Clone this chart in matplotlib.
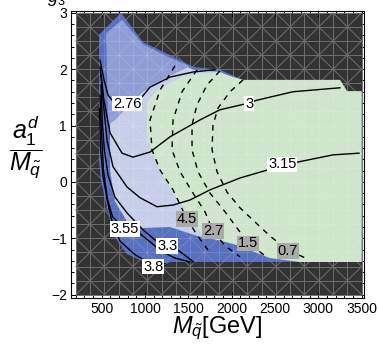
import numpy as np
import matplotlib.pyplot as plt
from matplotlib.patches import Polygon, Rectangle
from matplotlib.collections import LineCollection
from matplotlib.ticker import MultipleLocator

plt.rcParams['font.family'] = ['Liberation Sans', 'DejaVu Sans']
plt.rcParams['mathtext.fontset'] = 'custom'
plt.rcParams['mathtext.rm'] = 'Liberation Sans'
plt.rcParams['mathtext.it'] = 'Liberation Sans:italic'

# scanned domain
m_min, m_max = 200, 3500
a_min, a_max = -2.0, 3.0

# allowed region (outer envelope, dark blue)
outer_m = [723, 977, 1288, 1554, 1865, 2131, 3250, 3331, 3500, 3500, 1288, 1173,
           1023, 792, 660, 580, 530, 490, 469, 469]
outer_a = [3.00, 2.48, 2.25, 2.04, 1.99, 1.81, 1.81, 1.61, 1.61, -1.42, -1.42, -1.51,
           -1.44, -1.28, -1.00, -0.60, -0.25, 0.05, 0.35, 2.61]

# lavender region
lav_m = [573, 734, 977, 1288, 1554, 1865, 2131, 2300, 2300, 2062, 1669, 1288, 919,
         792, 653, 596, 596]
lav_a = [2.62, 2.87, 2.42, 2.18, 1.99, 1.95, 1.78, 1.78, -1.00, -1.08, -0.99, -0.80,
         -0.82, -0.70, -0.35, 0.20, 1.50]

# periwinkle region (top)
peri_m = [550, 734, 977, 1288, 1519, 1230, 977, 827, 653, 573]
peri_a = [2.64, 2.87, 2.44, 2.20, 2.05, 1.84, 1.60, 1.37, 1.10, 1.01]

# green region
green_m = [1023, 1080, 1160, 1300, 1450, 1634, 1865, 2131, 3250, 3331, 3500, 3500,
           2788, 2442, 2062, 1669, 1519, 1404, 1207, 1080, 1023]
green_a = [1.40, 1.53, 1.65, 1.77, 1.87, 1.93, 1.93, 1.81, 1.81, 1.61, 1.61, -1.42,
           -1.42, -1.35, -1.12, -0.96, -0.62, -0.37, 0.09, 0.51, 0.87]

# solid contours: (level, m, a, label position)
solid = [
    ('2.76', [480, 526, 573, 619, 792, 965, 1057, 1288, 1554, 1807],
             [2.16, 1.81, 1.54, 1.45, 1.38, 1.51, 1.68, 1.86, 1.95, 1.99], (792, 1.39)),
    ('3', [480, 526, 596, 734, 861, 1057, 1288, 1634, 1865, 2200, 2292, 2708, 3250],
          [2.04, 1.45, 0.87, 0.51, 0.44, 0.53, 0.80, 1.10, 1.28, 1.40, 1.45, 1.60, 1.67],
          (2200, 1.39)),
    ('3.15', [492, 515, 561, 630, 792, 942, 1138, 1323, 1519, 1750, 2096, 2408, 2580,
              2754, 3169, 3469],
             [1.90, 1.45, 0.74, 0.27, -0.09, -0.28, -0.44, -0.41, -0.32, -0.14, 0.07,
              0.21, 0.30, 0.35, 0.48, 0.51], (2583, 0.31)),
    ('3.3', [492, 505, 530, 573, 653, 792, 977, 1115, 1258, 1380, 1484, 1560],
            [1.72, 1.10, 0.57, 0.12, -0.27, -0.55, -0.85, -1.03, -1.13, -1.21, -1.33,
             -1.42], (1258, -1.13)),
    ('3.55', [480, 495, 520, 565, 625, 769, 942, 1057, 1196, 1346, 1519],
             [1.54, 0.92, 0.21, -0.30, -0.62, -0.84, -0.92, -1.06, -1.24, -1.35, -1.42],
             (769, -0.84)),
    ('3.8', [475, 485, 515, 560, 610, 711, 884, 1093, 1230],
            [1.30, 0.60, 0.10, -0.30, -0.65, -1.05, -1.29, -1.48, -1.45], (1093, -1.50)),
]

# dashed contours
dashed = [
    ('4.5', [1346, 1173, 1057, 1080, 1173, 1323, 1484, 1600, 1727],
            [2.06, 1.63, 1.10, 0.57, 0.21, -0.14, -0.66, -0.94, -1.21], (1484, -0.66)),
    ('2.7', [1600, 1427, 1323, 1311, 1404, 1554, 1692, 1784, 1923, 2096],
            [1.99, 1.60, 1.10, 0.57, 0.18, -0.20, -0.53, -0.87, -1.13, -1.33],
            (1785, -0.87)),
    ('1.5', [1865, 1715, 1600, 1542, 1542, 1611, 1750, 1923, 2188, 2419],
            [1.97, 1.72, 1.37, 1.01, 0.57, 0.18, -0.20, -0.53, -1.08, -1.35],
            (2188, -1.09)),
    ('0.7', [2131, 1981, 1842, 1784, 1773, 1831, 1946, 2096, 2269, 2442, 2650, 2881],
            [1.81, 1.60, 1.31, 1.01, 0.57, 0.18, -0.18, -0.46, -0.71, -0.96, -1.21,
             -1.37], (2650, -1.22)),
]

fig = plt.figure(figsize=(3.78, 3.47), dpi=100)
ax = fig.add_axes([0.188, 0.141, 0.775, 0.827])

# dark excluded background with mesh
ax.add_patch(Rectangle((m_min, a_min), m_max - m_min, a_max - a_min,
                       fc='#333333', ec='none', zorder=1))
gx = np.linspace(m_min, m_max, 21)
gy = np.linspace(a_min, a_max, 21)
segs = []
for x in gx:
    segs.append([(x, a_min), (x, a_max)])
for y in gy:
    segs.append([(m_min, y), (m_max, y)])
for i in range(20):
    for j in range(20):
        if (i + j) % 2 == 0:
            segs.append([(gx[i], gy[j]), (gx[i + 1], gy[j + 1])])
        else:
            segs.append([(gx[i], gy[j + 1]), (gx[i + 1], gy[j])])
ax.add_collection(LineCollection(segs, colors='#6e6e6e', linewidths=0.7, zorder=2))

outer = Polygon(np.column_stack([outer_m, outer_a]), closed=True,
                fc='#5870bf', ec='none', zorder=3)
ax.add_patch(outer)
ax.add_patch(Polygon(np.column_stack([lav_m, lav_a]), closed=True,
                     fc='#c7cee9', ec='none', zorder=4))
ax.add_patch(Polygon(np.column_stack([peri_m, peri_a]), closed=True,
                     fc='#8e9dd6', ec='none', zorder=5))
ax.add_patch(Polygon(np.column_stack([green_m, green_a]), closed=True,
                     fc='#cfe5cc', ec='none', zorder=6))

mesh2 = LineCollection(segs, colors='white', linewidths=0.6, alpha=0.15, zorder=7)
ax.add_collection(mesh2)
mesh2.set_clip_path(outer)

for lab, xs, ys, pos in solid:
    ax.plot(xs, ys, color='black', lw=1.0, zorder=8)
    ax.text(pos[0], pos[1], lab, ha='center', va='center', fontsize=10.5, zorder=10,
            bbox=dict(boxstyle='square,pad=0.06', fc='white', ec='none'))

for lab, xs, ys, pos in dashed:
    ax.plot(xs, ys, color='black', lw=1.0, ls=(0, (4, 4)), zorder=8)
    ax.text(pos[0], pos[1], lab, ha='center', va='center', fontsize=10.5, zorder=10,
            bbox=dict(boxstyle='square,pad=0.06', fc='#aaaaaa', ec='none'))

ax.set_xlim(146, 3527)
ax.set_ylim(-2.06, 3.03)
ax.xaxis.set_major_locator(MultipleLocator(500))
ax.xaxis.set_minor_locator(MultipleLocator(100))
ax.yaxis.set_major_locator(MultipleLocator(1))
ax.yaxis.set_minor_locator(MultipleLocator(0.2))
ax.tick_params(which='both', direction='in', top=True, right=True, labelsize=10,
               width=0.7, pad=3)
ax.tick_params(which='major', length=4.5)
ax.tick_params(which='minor', length=2.5)
for s in ax.spines.values():
    s.set_linewidth(0.8)
ax.set_xticks([500, 1000, 1500, 2000, 2500, 3000, 3500])
ax.set_yticks([-2, -1, 0, 1, 2, 3])
ax.set_yticklabels(['\u22122', '\u22121', '0', '1', '2', '3'])

ax.set_xlabel(r'$M_{\tilde{q}}$[GeV]', fontsize=17, labelpad=-1)
fig.text(26 / 378, 1 - 147 / 347, r'$\dfrac{a_1^d}{M_{\tilde{q}}}$', fontsize=18,
         ha='center', va='center')
fig.text(47 / 378, 1 - 2 / 347, r'$g_3$', fontsize=13, va='baseline')

fig.savefig('out.png', dpi=100)
